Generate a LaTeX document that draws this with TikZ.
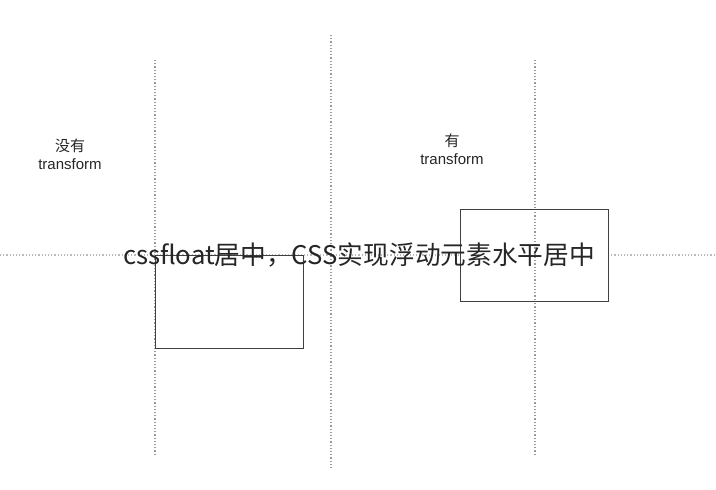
\documentclass[tikz,border=0pt]{standalone}
\usepackage{fontspec}
\setmainfont{Liberation Sans}
\newfontfamily\cjk{Noto Sans CJK SC}
\begin{document}
\begin{tikzpicture}[x=1pt,y=-1pt,
  guide/.style={gray!80,dotted,line width=1.2pt},
  box/.style={draw=black!75,line width=0.9pt},
  lbl/.style={font=\fontsize{15}{18}\selectfont,align=center,text=black!85}]
\useasboundingbox[fill=white] (0,0) rectangle (716,490);
\coordinate (h1) at (0,255); \coordinate (h2) at (716,255);
\draw[guide,gray!55] (h1) -- (h2);
\coordinate (a1) at (155,60); \coordinate (a2) at (155,455);
\coordinate (b1) at (331,35); \coordinate (b2) at (331,470);
\coordinate (c1) at (535,60); \coordinate (c2) at (535,455);
\draw[guide] (a1) -- (a2);
\draw[guide] (b1) -- (b2);
\draw[guide] (c1) -- (c2);
\draw[box] (155,255) rectangle (303,348);
\draw[box,fill=white] (460,209) rectangle (608,301);
\draw[guide] (535,209) -- (535,301);
\draw[box] (460,209) rectangle (608,301);
\node[lbl] (t1) at (70,154) {{\cjk 没有}\\transform};
\node[lbl] (t2) at (452,149) {{\cjk 有}\\transform};
\node[font=\cjk\fontsize{25.7}{30}\selectfont,text=black!85] (w) at (359,255) {cssfloat居中，CSS实现浮动元素水平居中};
\end{tikzpicture}
\end{document}
